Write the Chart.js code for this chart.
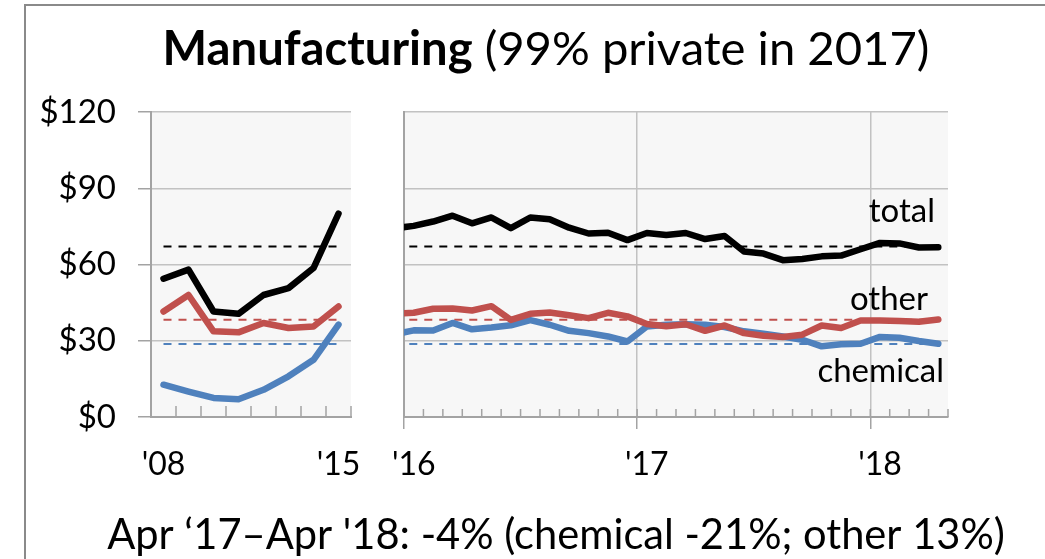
<!DOCTYPE html>
<html><head><meta charset="utf-8">
<script src="https://cdn.jsdelivr.net/npm/chart.js@4.4.1/dist/chart.umd.min.js"></script>
<style>
html,body{margin:0;padding:0;background:#fff;width:1045px;height:559px;overflow:hidden}
#frame{position:absolute;left:24px;top:4px;width:1040px;height:600px;border-left:2px solid #8a8a8a;border-top:2px solid #8a8a8a}
canvas{position:absolute;left:0;top:0}
</style></head><body>
<div id="frame"></div>
<canvas id="left" width="1045" height="559"></canvas>
<canvas id="right" width="1045" height="559"></canvas>
<script>
// ---- data ----
const years = ['2008','2009','2010','2011','2012','2013','2014','2015'];
const yearTickLabels = ["'08","","","","","","","'15"];
const totalAnnual    = [54.4, 58.0, 41.5, 40.6, 48.0, 50.7, 58.6, 80.0];
const otherAnnual    = [41.5, 48.0, 33.7, 33.3, 37.0, 35.0, 35.6, 43.5];
const chemicalAnnual = [12.7, 10.0, 7.5, 7.0, 10.7, 16.0, 22.5, 36.3];

const months = ['Dec 2015',
  'Jan 2016','Feb 2016','Mar 2016','Apr 2016','May 2016','Jun 2016','Jul 2016','Aug 2016','Sep 2016','Oct 2016','Nov 2016','Dec 2016',
  'Jan 2017','Feb 2017','Mar 2017','Apr 2017','May 2017','Jun 2017','Jul 2017','Aug 2017','Sep 2017','Oct 2017','Nov 2017','Dec 2017',
  'Jan 2018','Feb 2018','Mar 2018','Apr 2018'];
const monthTickLabels = ['',
  "'16",'','','','','','','','','','','',
  "'17",'','','','','','','','','','','',
  "'18",'','',''];
const totalMonthly    = [74.2, 75.2, 76.9, 79.2, 76.2, 78.5, 74.3, 78.5, 77.8, 74.5, 72.2, 72.5, 69.6,
                         72.4, 71.6, 72.4, 70.0, 71.2, 65.1, 64.3, 61.7, 62.2, 63.2, 63.5, 66.0,
                         68.5, 68.3, 66.7, 66.8];
const otherMonthly    = [40.7, 41.0, 42.6, 42.7, 41.9, 43.6, 38.2, 40.6, 41.1, 40.0, 38.9, 41.0, 39.6,
                         36.6, 35.7, 36.5, 33.9, 36.0, 33.0, 32.0, 31.5, 32.4, 36.0, 35.0, 38.0,
                         38.0, 37.8, 37.5, 38.4];
const chemicalMonthly = [32.5, 34.1, 34.0, 37.0, 34.5, 35.2, 36.1, 38.1, 36.3, 33.9, 33.0, 31.7, 29.7,
                         35.6, 36.3, 36.5, 36.3, 35.4, 33.7, 32.8, 31.7, 30.4, 27.8, 28.6, 28.8,
                         31.5, 31.2, 29.9, 28.8];
const avgTotal = 67.1, avgOther = 38.3, avgChemical = 28.7;

const yTicks = [0, 30, 60, 90, 120];
const yTickLabels = ['$0', '$30', '$60', '$90', '$120'];
const seriesNames = ['total', 'other', 'chemical'];
const titleBold = 'Manufacturing';
const titleRest = ' (99% private in 2017)';
const footnote = "Apr \u201817\u2013Apr '18: -4% (chemical -21%; other 13%)";

// ---- styles ----
const FONT = 'Lato';
const C_TOTAL = '#000000', C_OTHER = '#C0504D', C_CHEM = '#4F81BD';
const GRID = '#c2c2c2', AXIS = '#a3a3a3', PLOTBG = '#f7f7f7';
const LW = 6.5;
Chart.defaults.font.family = FONT;
Chart.defaults.color = '#000';

const plotBg = {
  id: 'plotBg',
  beforeDraw(chart) {
    const a = chart.chartArea, ctx = chart.ctx;
    ctx.save(); ctx.fillStyle = PLOTBG;
    ctx.fillRect(a.left, a.top, a.right - a.left, a.bottom - a.top);
    ctx.restore();
  }
};
function minorTicks(len) {
  return {
    id: 'minorTicks',
    beforeDatasetsDraw(chart) {
      const x = chart.scales.x, ctx = chart.ctx, b = chart.chartArea.bottom;
      const n = chart.data.datasets[0].data.length;
      ctx.save(); ctx.strokeStyle = AXIS; ctx.lineWidth = 1.5;
      for (let i = 0; i <= n; i++) {
        const px = x.getPixelForValue(i - 0.5);
        if (px < chart.chartArea.left - 1 || px > chart.chartArea.right + 1) continue;
        ctx.beginPath(); ctx.moveTo(px, b); ctx.lineTo(px, b - len); ctx.stroke();
      }
      ctx.restore();
    }
  };
}
const textPlugin = {
  id: 'textPlugin',
  afterDraw(chart) {
    const ctx = chart.ctx;
    ctx.save();
    ctx.fillStyle = '#000'; ctx.textBaseline = 'alphabetic'; ctx.textAlign = 'left';
    let f = 44;
    ctx.font = `bold ${f}px ${FONT}`; let w1 = ctx.measureText(titleBold).width;
    ctx.font = `${f}px ${FONT}`; let w2 = ctx.measureText(titleRest).width;
    f = f * 767 / (w1 + w2);
    ctx.font = `bold ${f}px ${FONT}`; w1 = ctx.measureText(titleBold).width;
    ctx.font = `${f}px ${FONT}`; w2 = ctx.measureText(titleRest).width;
    const x0 = 546 - (w1 + w2) / 2;
    ctx.font = `bold ${f}px ${FONT}`; ctx.fillText(titleBold, x0, 65);
    ctx.font = `${f}px ${FONT}`; ctx.fillText(titleRest, x0 + w1, 65);
    let g = 30;
    ctx.font = `${g}px ${FONT}`; let w3 = ctx.measureText(footnote).width;
    g = g * 898 / w3;
    ctx.font = `${g}px ${FONT}`; w3 = ctx.measureText(footnote).width;
    ctx.fillText(footnote, 556 - w3 / 2, 549);
    ctx.restore();
  }
};
const seriesLabels = {
  id: 'seriesLabels',
  afterDatasetsDraw(chart) {
    const ctx = chart.ctx, y = chart.scales.y, r = chart.chartArea.right;
    ctx.save(); ctx.fillStyle = '#000'; ctx.font = `33px ${FONT}`;
    ctx.textAlign = 'right'; ctx.textBaseline = 'alphabetic';
    ctx.fillText(seriesNames[0], r - 13, y.getPixelForValue(76.8));
    ctx.fillText(seriesNames[1], r - 20, y.getPixelForValue(42.2));
    ctx.fillText(seriesNames[2], r - 4, y.getPixelForValue(13.9));
    ctx.restore();
  }
};

function solid(data, color) {
  return {data, borderColor: color, borderWidth: LW, pointRadius: 0, tension: 0,
          borderCapStyle: 'round', borderJoinStyle: 'round', fill: false};
}
function dashed(data, color) {
  return {data, borderColor: color, borderWidth: 2, borderDash: [8, 7], pointRadius: 0,
          tension: 0, fill: false};
}
const yScaleBase = {
  min: 0, max: 120,
  afterBuildTicks: s => { s.ticks = yTicks.map(v => ({value: v})); },
};

// ---- left panel (annual) ----
new Chart(document.getElementById('left'), {
  type: 'line',
  data: {
    labels: years,
    datasets: [
      solid(totalAnnual, C_TOTAL),
      solid(otherAnnual, C_OTHER),
      solid(chemicalAnnual, C_CHEM),
      dashed(years.map(() => avgTotal), C_TOTAL),
      dashed(years.map(() => avgOther), C_OTHER),
      dashed(years.map(() => avgChemical), C_CHEM)
    ]
  },
  options: {
    responsive: false, animation: false,
    layout: {padding: {left: 0, top: 112, right: 1045 - 351, bottom: 0}},
    plugins: {legend: {display: false}, tooltip: {enabled: false}, title: {display: false}},
    scales: {
      x: {
        type: 'category', offset: true,
        grid: {display: false, drawTicks: false},
        border: {display: true, color: AXIS, width: 2},
        ticks: {autoSkip: false, maxRotation: 0, padding: 28, font: {size: 32},
                callback: (v, i) => yearTickLabels[i]},
        afterFit: s => { s.height = 559 - 417; }
      },
      y: Object.assign({}, yScaleBase, {
        grid: {color: GRID, lineWidth: 1.5, tickLength: 13, drawTicks: true, tickColor: AXIS},
        border: {display: true, color: AXIS, width: 2},
        ticks: {padding: 22, font: {size: 33}, callback: (v, i) => yTickLabels[i]},
        afterFit: s => { s.width = 151; }
      })
    }
  },
  plugins: [plotBg, minorTicks(11), textPlugin]
});

// ---- right panel (monthly) ----
const pts = arr => arr.map((v, i) => ({x: i - 1, y: v}));
new Chart(document.getElementById('right'), {
  type: 'line',
  data: {
    labels: months,
    datasets: [
      Object.assign(solid(pts(totalMonthly), C_TOTAL), {clip: 0}),
      Object.assign(solid(pts(otherMonthly), C_OTHER), {clip: 0}),
      Object.assign(solid(pts(chemicalMonthly), C_CHEM), {clip: 0}),
      Object.assign(dashed(pts(months.map(() => avgTotal)), C_TOTAL), {clip: 0}),
      Object.assign(dashed(pts(months.map(() => avgOther)), C_OTHER), {clip: 0}),
      Object.assign(dashed(pts(months.map(() => avgChemical)), C_CHEM), {clip: 0})
    ]
  },
  options: {
    responsive: false, animation: false,
    layout: {padding: {left: 404, top: 112, right: 1045 - 948, bottom: 0}},
    plugins: {legend: {display: false}, tooltip: {enabled: false}, title: {display: false}},
    scales: {
      x: {
        type: 'linear', min: -0.5, max: 27.5,
        afterBuildTicks: s => {
          const t = [];
          monthTickLabels.forEach((lab, i) => {
            if (lab) { t.push({value: i - 1.5}); t.push({value: i - 1}); }
          });
          s.ticks = t;
        },
        grid: {
          lineWidth: 1.5, tickLength: 12, drawTicks: true,
          color: c => (c.tick && c.tick.value % 1 !== 0) ? GRID : 'rgba(0,0,0,0)',
          tickColor: c => (c.tick && c.tick.value % 1 !== 0) ? AXIS : 'rgba(0,0,0,0)'
        },
        border: {display: true, color: AXIS, width: 2},
        ticks: {autoSkip: false, maxRotation: 0, padding: 16, font: {size: 32},
                callback: v => (v % 1 === 0) ? monthTickLabels[v + 1] : ''},
        afterFit: s => { s.height = 559 - 417; }
      },
      y: Object.assign({}, yScaleBase, {
        grid: {color: GRID, lineWidth: 1.5, drawTicks: false},
        border: {display: true, color: AXIS, width: 2},
        ticks: {display: false},
        afterFit: s => { s.width = 0; }
      })
    }
  },
  plugins: [plotBg, minorTicks(8), seriesLabels]
});
</script>
</body></html>
